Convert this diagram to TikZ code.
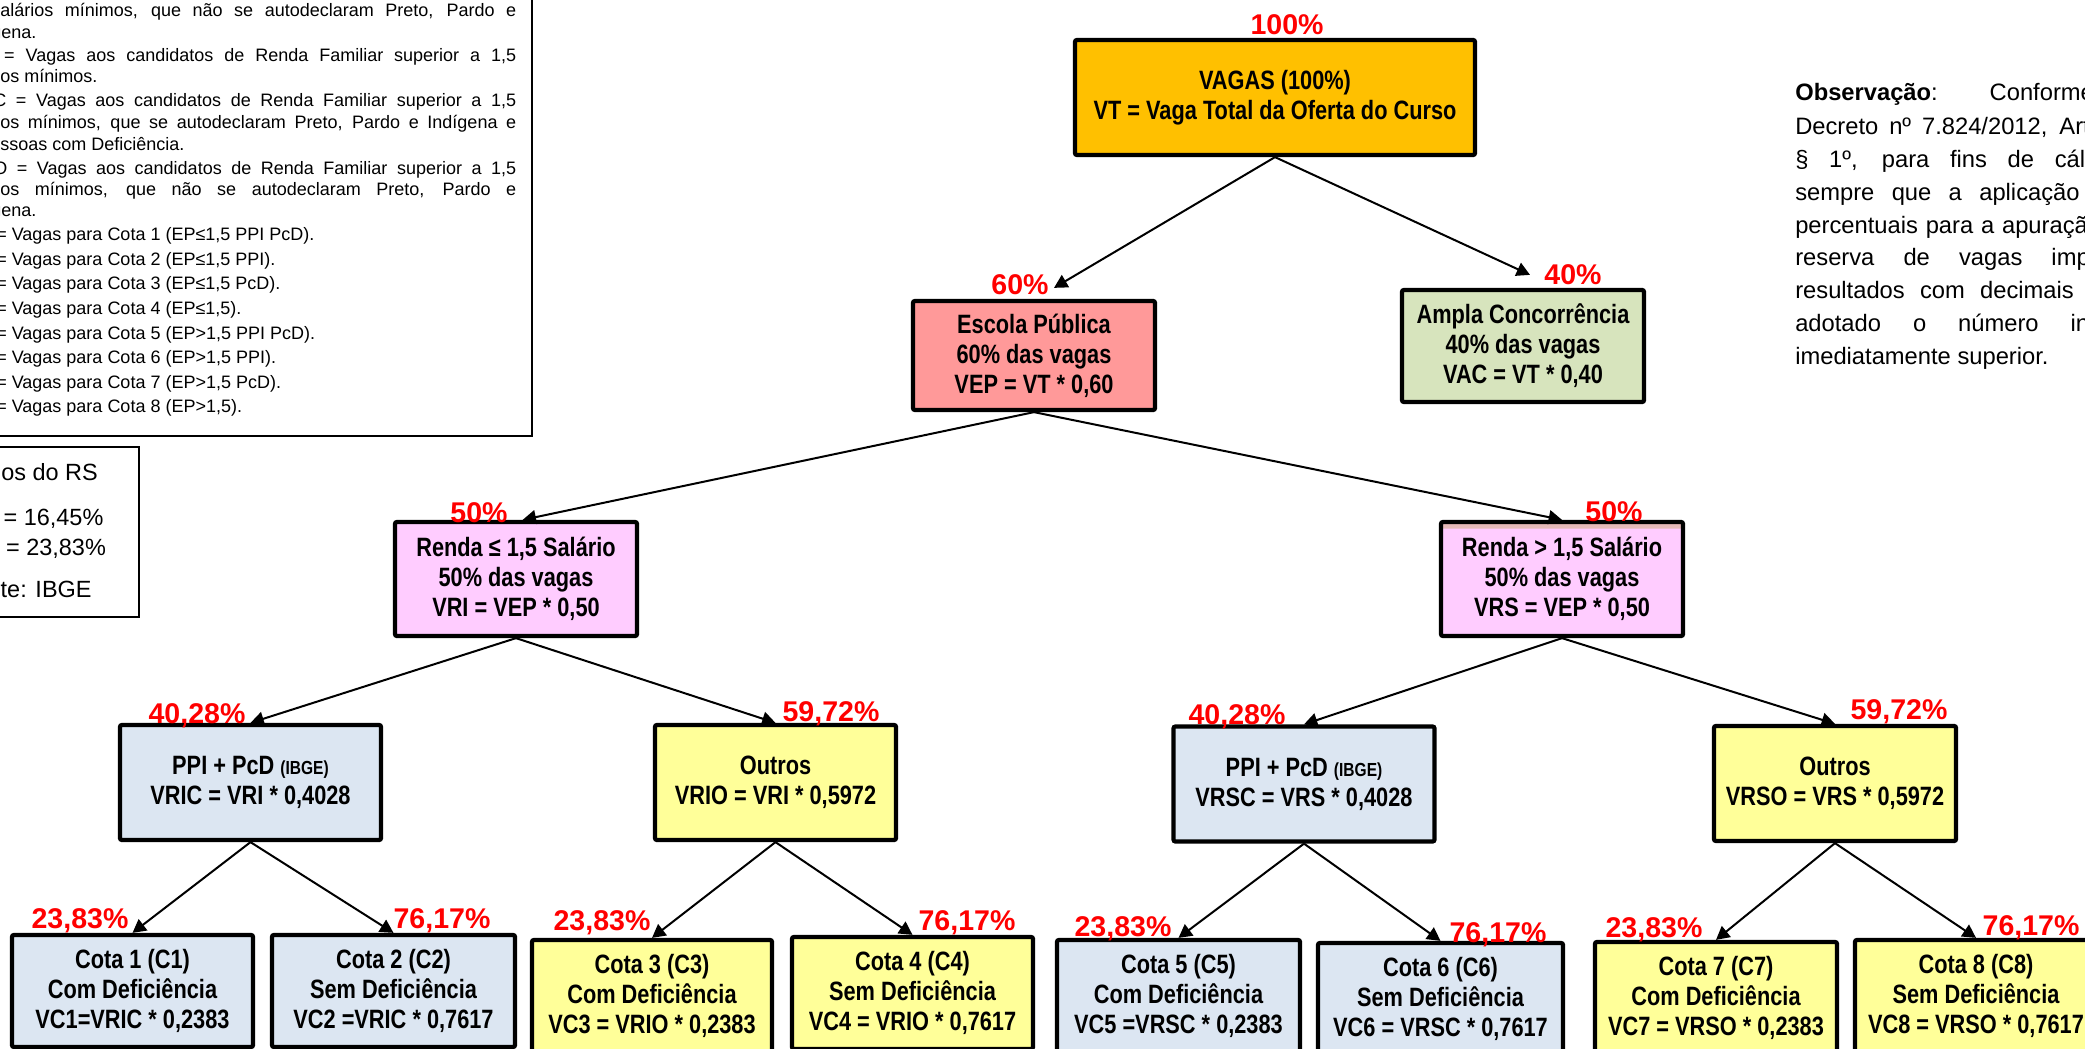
\documentclass[tikz,border=0pt]{standalone}
\usepackage{fontspec}
\setmainfont{Liberation Sans}
\newfontfamily\narrowfont[FakeStretch=0.82]{Liberation Sans}
\usetikzlibrary{arrows.meta}
\definecolor{cgold}{HTML}{FFC000}
\definecolor{csalmon}{HTML}{FF9999}
\definecolor{cgreen}{HTML}{D7E4BD}
\definecolor{cpink}{HTML}{FFCCFF}
\definecolor{cband}{HTML}{E6B9B8}
\definecolor{cblue}{HTML}{DCE6F2}
\definecolor{cyel}{HTML}{FFFF99}
\newcommand{\ibge}{{\fontsize{14.2pt}{22.5pt}\selectfont (IBGE)}}
\begin{document}
\begin{tikzpicture}[x=0.75pt,y=-0.75pt,
  box/.style={draw=black, line width=3.2pt, rounded corners=1.5pt, inner sep=0pt, align=center,
    font=\narrowfont\bfseries\fontsize{19.9pt}{22.5pt}\selectfont},
  bw/.style={minimum width=#1*0.75pt},
  bh/.style={minimum height=#1*0.75pt},
  lbl/.style={text=red, inner sep=0pt, anchor=base, font=\bfseries\fontsize{21.4pt}{24pt}\selectfont},
  conn/.style={draw=black, line width=1.5pt, -{Triangle[length=10pt,width=10.5pt]}},
  note/.style={anchor=base west, inner sep=0pt, font=\fontsize{13.5pt}{16pt}\selectfont},
  leg/.style={anchor=base west, inner sep=0pt, font=\fontsize{17.6pt}{20pt}\selectfont},
  obs/.style={anchor=base west, inner sep=0pt, font=\fontsize{17.8pt}{20pt}\selectfont},
  frame/.style={draw=black, line width=1.8pt}
]
\useasboundingbox (0,0) rectangle (2085,1049);
\clip (0,0) rectangle (2085,1049);

% ---------- left note box ----------
\draw[frame] (-60,-20) rectangle (532,436);
\node[note] (n1) at (-9,17) {\makebox[393.75pt][s]{salários mínimos, que não se autodeclaram Preto, Pardo e}};
\node[note] (n2) at (-39,39) {Indígena.};
\node[note] (n3) at (-44,62) {\makebox[420pt][s]{VRS = Vagas aos candidatos de Renda Familiar superior a 1,5}};
\node[note] (n4) at (-43,83) {salários mínimos.};
\node[note] (n5) at (-44,107) {\makebox[420pt][s]{VRSC = Vagas aos candidatos de Renda Familiar superior a 1,5}};
\node[note] (n6) at (-43,128) {\makebox[419.25pt][s]{salários mínimos, que se autodeclaram Preto, Pardo e Indígena e}};
\node[note] (n7) at (-22,150) {Pessoas com Deficiência.};
\node[note] (n8) at (-44,174) {\makebox[420pt][s]{VRSO = Vagas aos candidatos de Renda Familiar superior a 1,5}};
\node[note] (n9) at (-43,195) {\makebox[419.25pt][s]{salários mínimos, que não se autodeclaram Preto, Pardo e}};
\node[note] (n10) at (-39,216) {Indígena.};
\node[note] (k1) at (-44,240) {VC1 = Vagas para Cota 1 (EP≤1,5 PPI PcD).};
\node[note] (k2) at (-44,265) {VC2 = Vagas para Cota 2 (EP≤1,5 PPI).};
\node[note] (k3) at (-44,289) {VC3 = Vagas para Cota 3 (EP≤1,5 PcD).};
\node[note] (k4) at (-44,314) {VC4 = Vagas para Cota 4 (EP≤1,5).};
\node[note] (k5) at (-44,339) {VC5 = Vagas para Cota 5 (EP>1,5 PPI PcD).};
\node[note] (k6) at (-44,363) {VC6 = Vagas para Cota 6 (EP>1,5 PPI).};
\node[note] (k7) at (-44,388) {VC7 = Vagas para Cota 7 (EP>1,5 PcD).};
\node[note] (k8) at (-44,412) {VC8 = Vagas para Cota 8 (EP>1,5).};

% ---------- legend box ----------
\draw[frame] (-60,447) rectangle (139,617);
\node[leg] (g1) at (-42,480) {Dados do RS};
\node[leg] (g2) at (-41,525) {PPI = 16,45\%};
\node[leg] (g3) at (-45,555) {PcD = 23,83\%};
\node[leg] (g4) at (-40,597) {Fonte: IBGE};

% ---------- observation ----------
\node[obs] (o1) at (1795,101) {\makebox[255pt][s]{\textbf{Observação}: Conforme o}};
\node[obs] (o2) at (1795,134) {\makebox[267pt][s]{Decreto nº 7.824/2012, Art. 10,}};
\node[obs] (o3) at (1795,167) {\makebox[255pt][s]{§ 1º, para fins de cálculo,}};
\node[obs] (o4) at (1795,200) {\makebox[255pt][s]{sempre que a aplicação dos}};
\node[obs] (o5) at (1795,233) {\makebox[255pt][s]{percentuais para a apuração da}};
\node[obs] (o6) at (1795,265) {\makebox[253.5pt][s]{reserva de vagas implicar}};
\node[obs] (o7) at (1795,298) {\makebox[255pt][s]{resultados com decimais será}};
\node[obs] (o8) at (1795,331) {\makebox[255pt][s]{adotado o número inteiro}};
\node[obs] (o9) at (1795,364) {imediatamente superior.};

% ---------- tree boxes ----------
\node[box, fill=cgold, bw=400, bh=115] (vt) at (1275,97.5) {VAGAS (100\%)\\VT = Vaga Total da Oferta do Curso};
\node[box, fill=csalmon, bw=242, bh=109] (ep) at (1034,355.5) {Escola Pública\\60\% das vagas\\VEP = VT * 0,60};
\node[box, fill=cgreen, bw=242, bh=112] (ac) at (1523,346) {Ampla Concorrência\\40\% das vagas\\VAC = VT * 0,40};
\node[box, fill=cpink, bw=242, bh=114] (ri) at (516,579) {Renda ≤ 1,5 Salário\\50\% das vagas\\VRI = VEP * 0,50};
\node[box, fill=cpink, bw=242, bh=114,
  path picture={\fill[cband] (path picture bounding box.north west) rectangle ([yshift=-5pt]path picture bounding box.north east);}]
  (rs) at (1562,579) {Renda > 1,5 Salário\\50\% das vagas\\VRS = VEP * 0,50};
\node[box, fill=cblue, bw=261, bh=115] (ric) at (250.5,782.5) {PPI + PcD \ibge\\VRIC = VRI * 0,4028};
\node[box, fill=cyel, bw=241, bh=115] (rio) at (775.5,782.5) {Outros\\VRIO = VRI * 0,5972};
\node[box, fill=cblue, bw=261, bh=115] (rsc) at (1304,784) {PPI + PcD \ibge\\VRSC = VRS * 0,4028};
\node[box, fill=cyel, bw=242, bh=115] (rso) at (1835,783.5) {Outros\\VRSO = VRS * 0,5972};

\node[box, fill=cblue, bw=241, bh=112] (c1) at (132.5,991) {Cota 1 (C1)\\Com Deficiência\\VC1=VRIC * 0,2383};
\node[box, fill=cblue, bw=243, bh=112] (c2) at (393.5,991) {Cota 2 (C2)\\Sem Deficiência\\VC2 =VRIC * 0,7617};
\node[box, fill=cyel, bw=240, bh=112] (c3) at (652,996) {Cota 3 (C3)\\Com Deficiência\\VC3 = VRIO * 0,2383};
\node[box, fill=cyel, bw=241, bh=112] (c4) at (912.5,993) {Cota 4 (C4)\\Sem Deficiência\\VC4 = VRIO * 0,7617};
\node[box, fill=cblue, bw=243, bh=112] (c5) at (1178.5,996) {Cota 5 (C5)\\Com Deficiência\\VC5 =VRSC * 0,2383};
\node[box, fill=cblue, bw=245, bh=112] (c6) at (1440.5,999) {Cota 6 (C6)\\Sem Deficiência\\VC6 = VRSC * 0,7617};
\node[box, fill=cyel, bw=242, bh=112] (c7) at (1716,998) {Cota 7 (C7)\\Com Deficiência\\VC7 = VRSO * 0,2383};
\node[box, fill=cyel, bw=242, bh=112] (c8) at (1976,996) {Cota 8 (C8)\\Sem Deficiência\\VC8 = VRSO * 0,7617};

% ---------- connectors ----------
\draw[conn] (vt.south) -- ([shift={(20,-11)}]ep.north);
\draw[conn] (vt.south) -- ([shift={(7,-13)}]ac.north);
\draw[conn] (ep.south) -- ([xshift=5pt]ri.north);
\draw[conn] (ep.south) -- (rs.north);
\draw[conn] (ri.south) -- (ric.north);
\draw[conn] (ri.south) -- (rio.north);
\draw[conn] (rs.south) -- (rsc.north);
\draw[conn] (rs.south) -- (rso.north);
\draw[conn] (ric.south) -- (c1.north);
\draw[conn] (ric.south) -- (c2.north);
\draw[conn] (rio.south) -- (c3.north);
\draw[conn] (rio.south) -- (c4.north);
\draw[conn] (rsc.south) -- (c5.north);
\draw[conn] (rsc.south) -- (c6.north);
\draw[conn] (rso.south) -- (c7.north);
\draw[conn] (rso.south) -- (c8.north);

% ---------- red percentage labels ----------
\node[lbl] (p100) at (1287,35) {100\%};
\node[lbl] (p60) at (1020,294) {60\%};
\node[lbl] (p40) at (1573,284) {40\%};
\node[lbl] (p50a) at (479,522) {50\%};
\node[lbl] (p50b) at (1614,521) {50\%};
\node[lbl] (q1) at (197,723) {40,28\%};
\node[lbl] (q2) at (831,721) {59,72\%};
\node[lbl] (q3) at (1237,724) {40,28\%};
\node[lbl] (q4) at (1899,719) {59,72\%};
\node[lbl] (r1) at (80,928) {23,83\%};
\node[lbl] (r2) at (442,928) {76,17\%};
\node[lbl] (r3) at (602,930) {23,83\%};
\node[lbl] (r4) at (967,930) {76,17\%};
\node[lbl] (r5) at (1123,936) {23,83\%};
\node[lbl] (r6) at (1498,942) {76,17\%};
\node[lbl] (r7) at (1654,937) {23,83\%};
\node[lbl] (r8) at (2031,935) {76,17\%};
\end{tikzpicture}
\end{document}
